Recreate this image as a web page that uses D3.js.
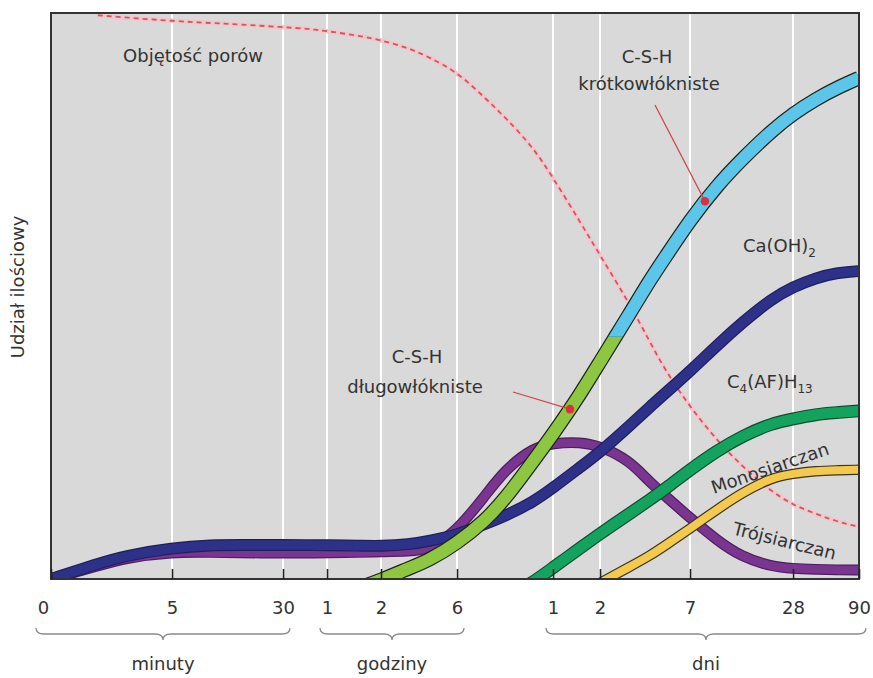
<!DOCTYPE html>
<html><head><meta charset="utf-8">
<script src="https://cdn.jsdelivr.net/npm/d3@7"></script>
<style>
body{margin:0;background:#fff}
svg{display:block}
text{font-family:"DejaVu Sans",sans-serif;fill:#333}
</style>
</head><body>
<svg id="c" width="873" height="678"></svg>
<script>
// ---- data (time in minutes, relative amount 0-100) ----
const timeMin = [0, 1, 2, 5, 10, 15, 30, 45, 60, 90, 120, 180, 240, 360, 540, 720, 1080, 1440, 2160, 2880, 4320, 5760, 7200, 10080, 14400, 20160, 30240, 40320, 60480, 86400, 129600];
const tickMinutes = [0, 5, 30, 60, 120, 360, 1440, 2880, 10080, 40320, 129600];
const tickLabels = ["0", "5", "30", "1", "2", "6", "1", "2", "7", "28", "90"];
const groupLabels = ["minuty", "godziny", "dni"];
const groupFrom = [0, 60, 1440];
const groupTo = [30, 360, 129600];

const caOH2 = [0, 2.7, 4.1, 5.5, 6.0, 6.0, 6.0, 6.0, 5.95, 5.9, 5.8, 6.1, 6.7, 7.8, 9.7, 11.1, 13.6, 16.1, 19.8, 22.4, 27.0, 30.4, 32.9, 36.7, 41.2, 45.2, 49.5, 51.6, 53.2, 54.1, 54.4];
const trojsiarczan = [0, 2.3, 3.7, 4.8, 4.7, 4.6, 4.6, 4.6, 4.6, 4.7, 4.8, 4.9, 5.2, 8.5, 14.7, 19.3, 23.2, 24.0, 24.2, 23.5, 21.0, 17.1, 14.6, 10.8, 6.9, 3.9, 2.2, 1.85, 1.7, 1.6, 1.6];
const csh = [null, null, null, null, null, null, null, null, null, -1.6, -0.2, 1.9, 3.3, 6.3, 10.3, 14.1, 20.8, 25.6, 32.7, 38.4, 46.7, 52.8, 57.0, 63.4, 69.4, 74.1, 79.2, 82.2, 84.8, 86.7, 88.5];
const cshLongToShort = 42.8; // level where long-fibre C-S-H turns into short-fibre C-S-H
const c4afh13 = [null, null, null, null, null, null, null, null, null, null, null, null, null, null, null, -3.5, -0.6, 2.0, 5.5, 8.0, 11.5, 14.0, 16.0, 19.3, 22.6, 25.2, 27.5, 28.3, 29.1, 29.4, 29.7];
const monosiarczan = [null, null, null, null, null, null, null, null, null, null, null, null, null, null, null, null, null, null, -2.6, -0.7, 2.1, 4.1, 6.0, 8.9, 12.2, 15.2, 17.9, 18.6, 19.1, 19.2, 19.3];
const objetoscPorow = [null, 99.6, 99.2, 98.6, 98.2, 98.0, 97.5, 97.2, 96.8, 96.0, 95.2, 93.8, 92.2, 89.6, 85.0, 81.6, 76.3, 70.9, 63.0, 57.2, 48.8, 41.9, 36.7, 30.4, 24.6, 20.0, 15.4, 13.1, 11.5, 10.2, 9.2];
const cshMarkerTimes = [1850, 12330]; // długowłókniste, krótkowłókniste

// ---- layout ----
const svg = d3.select("#c");
const L = 51, R = 859, T = 13, B = 579;
const sl = d3.scaleSymlog().constant(1).domain([0, 129600]).range([0, 1]);
// axis breakpoints calibrated to the figure's (roughly logarithmic) time axis
const xp = d3.scaleLinear().domain(tickMinutes.map(sl)).range([L, 172, 283, 327, 381, 457, 553, 600, 690, 793, R]);
const x = t => xp(sl(t));
const y = d3.scaleLinear().domain([0, 100]).range([B, T]);

const defs = svg.append("defs");
defs.append("clipPath").attr("id", "plot").append("rect").attr("x", L).attr("y", T).attr("width", R - L).attr("height", B - T);
defs.append("clipPath").attr("id", "low").append("rect").attr("x", L).attr("y", y(cshLongToShort)).attr("width", R - L).attr("height", B - y(cshLongToShort));
defs.append("clipPath").attr("id", "high").append("rect").attr("x", L).attr("y", T).attr("width", R - L).attr("height", y(cshLongToShort) - T);

svg.append("rect").attr("x", L).attr("y", T).attr("width", R - L).attr("height", B - T).attr("fill", "#d9d9d9");

// grid
svg.append("g").selectAll("line").data(tickMinutes.slice(1, -1)).join("line")
  .attr("x1", d => x(d)).attr("x2", d => x(d)).attr("y1", T).attr("y2", B)
  .attr("stroke", "#ffffff").attr("stroke-width", 2);

const rows = arr => timeMin.map((t, i) => ({ t, v: arr[i] }));
const line = d3.line().defined(d => d.v != null).x(d => x(d.t)).y(d => y(d.v)).curve(d3.curveBasis);

const g = svg.append("g").attr("clip-path", "url(#plot)");

// pore volume (dashed)
g.append("path").attr("d", line(rows(objetoscPorow))).attr("fill", "none").attr("stroke", "#f4c5c9").attr("stroke-width", 4.5);
g.append("path").attr("d", line(rows(objetoscPorow))).attr("fill", "none").attr("stroke", "#c65a68").attr("stroke-width", 1.8).attr("stroke-dasharray", "5,4");

function band(arr, fill, edge, w) {
  const d = line(rows(arr));
  const o = g.append("path").attr("d", d).attr("fill", "none").attr("stroke", edge).attr("stroke-width", w + 2.4);
  g.append("path").attr("d", d).attr("fill", "none").attr("stroke", fill).attr("stroke-width", w);
  return o.node();
}
band(trojsiarczan, "#7a3591", "#4b1f5c", 8.5);
band(caOH2, "#2d3187", "#1d205e", 9.5);
band(c4afh13, "#14a35e", "#0c4f2e", 10.5);
band(monosiarczan, "#f3ca4e", "#3d3320", 8);
// C-S-H band: long fibre (green) below the change level, short fibre (cyan) above
const cshD = line(rows(csh));
const cshNode = g.append("path").attr("d", cshD).attr("fill", "none").attr("stroke", "#1c2418").attr("stroke-width", 14.6).node();
g.append("path").attr("d", cshD).attr("fill", "none").attr("stroke", "#8dc640").attr("stroke-width", 12.2).attr("clip-path", "url(#low)");
g.append("path").attr("d", cshD).attr("fill", "none").attr("stroke", "#5cc6ea").attr("stroke-width", 12.2).attr("clip-path", "url(#high)");

function yAtX(node, px) {
  const tot = node.getTotalLength();
  let lo = 0, hi = tot;
  for (let k = 0; k < 40; k++) {
    const m = (lo + hi) / 2;
    if (node.getPointAtLength(m).x < px) lo = m; else hi = m;
  }
  return node.getPointAtLength((lo + hi) / 2).y;
}
const markerPts = cshMarkerTimes.map(t => ({ x: x(t), y: yAtX(cshNode, x(t)) }));
const leaderFrom = [[513, 392], [655, 105]];
svg.append("g").selectAll("line").data(markerPts).join("line")
  .attr("x1", (d, i) => leaderFrom[i][0]).attr("y1", (d, i) => leaderFrom[i][1])
  .attr("x2", d => d.x).attr("y2", d => d.y)
  .attr("stroke", "#cf4452").attr("stroke-width", 1.3);
svg.append("g").selectAll("circle").data(markerPts).join("circle")
  .attr("cx", d => d.x).attr("cy", d => d.y).attr("r", 4.3).attr("fill", "#d9323e");

// frame
svg.append("rect").attr("x", L).attr("y", T).attr("width", R - L).attr("height", B - T)
  .attr("fill", "none").attr("stroke", "#333").attr("stroke-width", 2);

// axis
const ax = svg.append("g").attr("transform", `translate(0,${B})`)
  .call(d3.axisBottom(xp).tickValues(tickMinutes.map(sl)).tickFormat((d, i) => tickLabels[i]).tickSize(-10).tickPadding(22));
ax.select(".domain").remove();
ax.selectAll(".tick line").attr("stroke", "#222").attr("stroke-width", 1.6);
ax.selectAll(".tick text").attr("font-size", 18).attr("font-family", "DejaVu Sans").attr("fill", "#333")
  .attr("dx", (d, i) => i === 0 ? -8 : 0);

// braces
const labelX = t => x(t) + (t === 0 ? -8 : 0);
const by0 = 628, by1 = 634, by2 = 640;
groupLabels.forEach((lab, i) => {
  const x0 = labelX(groupFrom[i]) - 7, x1 = Math.min(labelX(groupTo[i]) + 7, 866), xm = (x0 + x1) / 2;
  svg.append("path")
    .attr("d", `M${x0},${by0} Q${x0},${by1} ${x0 + 8},${by1} L${xm - 8},${by1} Q${xm},${by1} ${xm},${by2} Q${xm},${by1} ${xm + 8},${by1} L${x1 - 8},${by1} Q${x1},${by1} ${x1},${by0}`)
    .attr("fill", "none").attr("stroke", "#8a8a8a").attr("stroke-width", 1.3);
  svg.append("text").attr("x", xm).attr("y", 670).attr("text-anchor", "middle").attr("font-size", 18).text(lab);
});

// labels
const txt = (s, px, py, anchor = "middle") => svg.append("text").attr("x", px).attr("y", py).attr("text-anchor", anchor).attr("font-size", 18).text(s);
txt("Objętość porów", 193, 62);
txt("C-S-H", 647, 63);
txt("krótkowłókniste", 649, 90);
txt("C-S-H", 417, 363);
txt("długowłókniste", 415, 393);
const ca = svg.append("text").attr("x", 743).attr("y", 252).attr("font-size", 18);
ca.append("tspan").text("Ca(OH)");
ca.append("tspan").attr("font-size", 12).attr("dy", 5).text("2");
const c4 = svg.append("text").attr("x", 727).attr("y", 388).attr("font-size", 18);
c4.append("tspan").text("C");
c4.append("tspan").attr("font-size", 12).attr("dy", 5).text("4");
c4.append("tspan").attr("dy", -5).text("(AF)H");
c4.append("tspan").attr("font-size", 12).attr("dy", 5).text("13");
svg.append("text").attr("transform", "translate(772,474) rotate(-19)").attr("text-anchor", "middle").attr("font-size", 18).text("Monosiarczan");
svg.append("text").attr("transform", "translate(783,547) rotate(14)").attr("text-anchor", "middle").attr("font-size", 18).text("Trójsiarczan");
svg.append("text").attr("transform", "translate(24,287) rotate(-90)").attr("text-anchor", "middle").attr("font-size", 18).text("Udział ilościowy");
</script>
</body></html>
